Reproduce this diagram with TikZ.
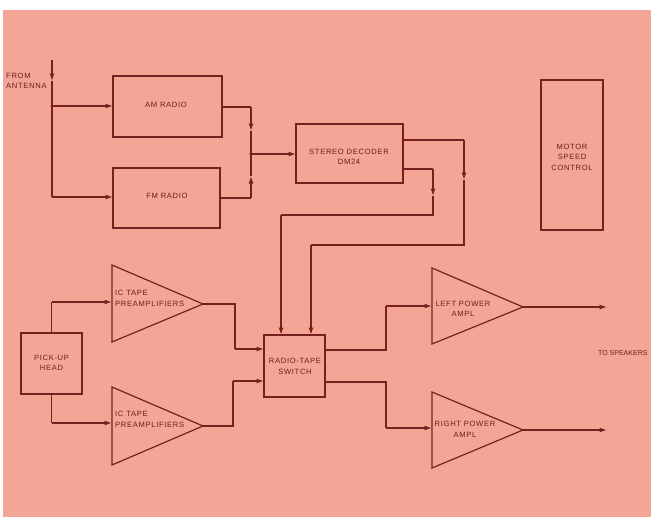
\documentclass[tikz,border=0pt]{standalone}
\usepackage{fontspec}
\setmainfont{Liberation Sans}
\usetikzlibrary{arrows.meta}
\definecolor{bgpink}{RGB}{243,166,150}
\definecolor{ink}{RGB}{120,32,32}
\definecolor{txt}{RGB}{110,28,28}
\newcommand{\lblfont}{\fontsize{7.6}{10.5}\selectfont\addfontfeature{LetterSpace=9}}
\tikzset{
  wire/.style={draw=ink, line width=1.2pt},
  arr/.style={wire, -{Latex[length=7.5pt,width=5pt]}},
  box/.style={draw=ink, line width=1.2pt, rectangle, inner sep=0pt},
  lbl/.style={text=txt, font=\lblfont, align=center, inner sep=0pt},
  lbll/.style={text=txt, font=\lblfont, align=left, inner sep=0pt, anchor=west},
  dot/.style={circle, fill=ink, inner sep=0pt, minimum size=3.5pt}
}
\begin{document}
\begin{tikzpicture}[x=1pt,y=-1pt]
\useasboundingbox (0,0) rectangle (651,517);
\fill[white] (0,0) rectangle (651,517);
\fill[bgpink] (3,10) rectangle (651,517);

% boxes
\node[box, minimum width=109pt, minimum height=61pt] (am) at (167.5,106.5) {};
\node[lbl] at (166,105) {AM RADIO};
\node[box, minimum width=107pt, minimum height=60pt] (fm) at (166.5,198) {};
\node[lbl] at (167,196) {FM RADIO};
\node[box, minimum width=107pt, minimum height=59pt] (dec) at (349.5,153.5) {};
\node[lbl] at (349,157) {STEREO DECODER\\DM24};
\node[box, minimum width=62pt, minimum height=150pt] (motor) at (572,155) {};
\node[lbl] at (572,157) {MOTOR\\SPEED\\CONTROL};
\node[box, minimum width=61pt, minimum height=61pt] (head) at (51.5,363.5) {};
\node[lbl] at (51.5,363) {PICK-UP\\HEAD};
\node[box, minimum width=61pt, minimum height=62pt] (sw) at (294.5,366) {};
\node[lbl] at (295,366.5) {RADIO-TAPE\\SWITCH};

% triangles
\draw[wire, line join=miter] (112,265) -- (203,304) coordinate (p1tip) -- (112,342) -- cycle;
\node[lbll] (p1lbl) at (115,298.5) {IC TAPE\\PREAMPLIFIERS};
\draw[wire, line join=miter] (112,387) -- (203,426) coordinate (p2tip) -- (112,465) -- cycle;
\node[lbll] (p2lbl) at (115,419.5) {IC TAPE\\PREAMPLIFIERS};
\draw[wire, line join=miter] (432,268) -- (523,307) coordinate (l1tip) -- (432,344) -- cycle;
\node[lbl] (l1lbl) at (463,309) {LEFT POWER\\AMPL};
\draw[wire, line join=miter] (432,392) -- (523,430) coordinate (l2tip) -- (432,468) -- cycle;
\node[lbl] (l2lbl) at (465,429.5) {RIGHT POWER\\AMPL};

% labels
\node[lbll] (antlbl) at (6,81) {FROM\\ANTENNA};
\node[text=txt, font=\fontsize{7}{8}\selectfont, inner sep=0pt, anchor=west] (spk) at (598,353) {TO SPEAKERS};

% coordinates
\coordinate (ant0) at (52,60);
\coordinate (antA) at (52,81);
\coordinate (antJ) at (52,106);
\coordinate (amIn) at (113,106);
\coordinate (fmIn) at (113,197);
\coordinate (amOut) at (222,107);
\coordinate (fmOut) at (220,198);
\coordinate (mJ) at (251,154);
\coordinate (decIn) at (296,154);
\coordinate (decO1) at (403,140);
\coordinate (decO2) at (403,169);
\coordinate (swIn1) at (311,335);
\coordinate (swIn2) at (281,335);
\coordinate (p1in) at (112,302);
\coordinate (p2in) at (112,423);
\coordinate (swL1) at (264,349);
\coordinate (swL2) at (264,381);
\coordinate (swO1) at (325,350);
\coordinate (swO2) at (325,382);
\coordinate (l1in) at (432,306);
\coordinate (l2in) at (432,428);
\coordinate (spk1) at (607,307);
\coordinate (spk2) at (607,430);

% antenna
\draw[arr] (ant0) -- (antA);
\draw[wire] (antA) -- (antJ);
\draw[arr] (antJ) -- (amIn);
\draw[wire] (antJ) -- (52,197);
\draw[arr] (52,197) -- (fmIn);
\node[dot] (j1) at (antJ) {};

% AM / FM to decoder
\draw[wire] (amOut) -- (251,107);
\draw[arr] (251,107) -- (251,131);
\draw[wire] (251,131) -- (mJ);
\draw[wire] (fmOut) -- (251,198);
\draw[arr] (251,198) -- (251,176);
\draw[wire] (251,176) -- (mJ);
\draw[arr] (mJ) -- (decIn);
\node[dot] (j2) at (mJ) {};

% decoder to switch
\draw[wire] (decO1) -- (464,140);
\draw[arr] (464,140) -- (464,180);
\draw[wire] (464,180) -- (464,245) -- (311,245);
\draw[arr] (311,245) -- (swIn1);
\draw[wire] (decO2) -- (433,169);
\draw[arr] (433,169) -- (433,196);
\draw[wire] (433,196) -- (433,215) -- (281,215);
\draw[arr] (281,215) -- (swIn2);

% head to preamps
\draw[wire] (head.north) -- (51.5,302);
\draw[arr] (51.5,302) -- (p1in);
\draw[wire] (head.south) -- (51.5,423);
\draw[arr] (51.5,423) -- (p2in);

% preamps to switch
\draw[wire] (p1tip) -- (235,304) -- (235,349);
\draw[arr] (235,349) -- (swL1);
\draw[wire] (p2tip) -- (233,426) -- (233,381);
\draw[arr] (233,381) -- (swL2);

% switch to power amps
\draw[wire] (swO1) -- (386,350) -- (386,306);
\draw[arr] (386,306) -- (l1in);
\draw[wire] (swO2) -- (386,382) -- (386,428);
\draw[arr] (386,428) -- (l2in);

% to speakers
\draw[arr] (l1tip) -- (spk1);
\draw[arr] (l2tip) -- (spk2);
\end{tikzpicture}
\end{document}
